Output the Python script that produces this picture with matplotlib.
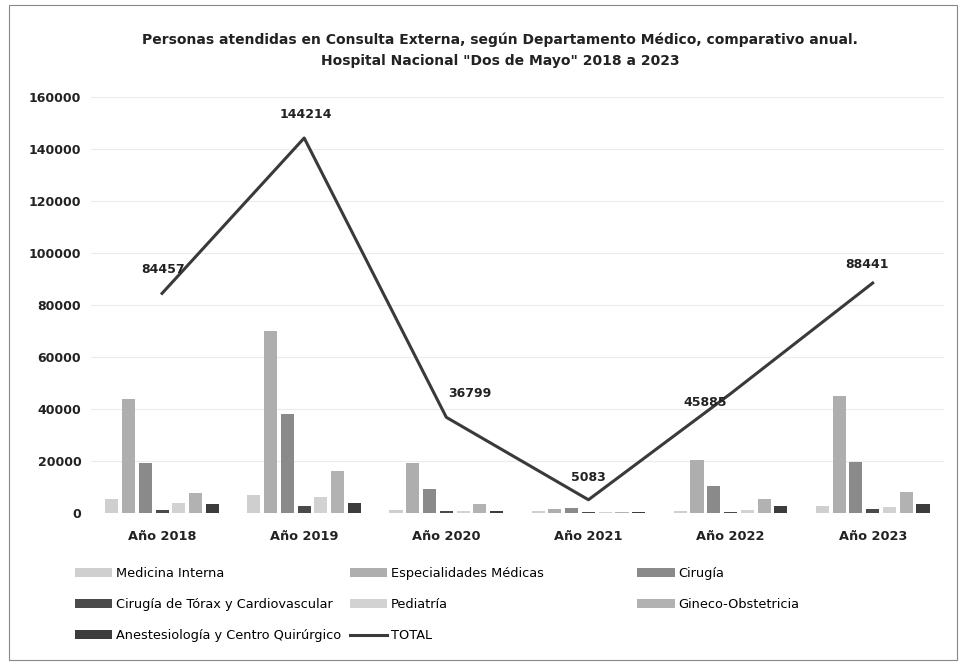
import numpy as np
import matplotlib
matplotlib.use("Agg")
import matplotlib.pyplot as plt
from matplotlib.patches import Patch, Rectangle
from matplotlib.lines import Line2D

# data
years = ["Año 2018", "Año 2019", "Año 2020", "Año 2021", "Año 2022", "Año 2023"]
series = ["Medicina Interna", "Especialidades Médicas", "Cirugía",
          "Cirugía de Tórax y Cardiovascular", "Pediatría", "Gineco-Obstetricia",
          "Anestesiología y Centro Quirúrgico"]
medicina = [5500, 6800, 1000, 600, 700, 2500]
especialidades = [44000, 70000, 19300, 1500, 20400, 44900]
cirugia = [19200, 38200, 9400, 1800, 10200, 19600]
torax = [1300, 2700, 700, 200, 500, 1500]
pediatria = [4000, 6200, 600, 300, 1000, 2300]
gineco = [7500, 16300, 3300, 400, 5400, 7900]
anestesia = [3300, 3800, 700, 300, 2800, 3500]
total = [84457, 144214, 36799, 5083, 45885, 88441]

values = [medicina, especialidades, cirugia, torax, pediatria, gineco, anestesia]
colors = ["#cfcfcf", "#aeaeae", "#8a8a8a", "#4a4a4a", "#d2d2d2", "#b2b2b2", "#3c3c3c"]
line_color = "#3a3a3a"

plt.rcParams["font.family"] = "DejaVu Sans"

fig = plt.figure(figsize=(9.64, 6.65), dpi=100, facecolor="white")
ax = fig.add_axes([0.0944, 0.2286, 0.8846, 0.6256])

x = np.arange(len(years))
step = 0.118
width = 0.092
for i, vals in enumerate(values):
    ax.bar(x + (i - 3) * step, vals, width=width, color=colors[i], zorder=2)

ax.plot(x, total, color=line_color, lw=2.2, zorder=3)

# label offsets (points) for the TOTAL values
offsets = [(1, 17), (1, 17), (17, 17), (0, 16), (-18, -6), (-4, 13)]
for xi, v, off in zip(x, total, offsets):
    ax.annotate(str(v), (xi, v), xytext=off, textcoords="offset points",
                ha="center", va="center", fontsize=9, fontweight="bold",
                color="#222222", zorder=4)

ax.set_xlim(-0.5, len(years) - 0.5)
ax.set_ylim(0, 160000)
ax.set_yticks(np.arange(0, 160001, 20000))
ax.set_xticks(x)
ax.set_xticklabels(years, fontsize=9.3, fontweight="bold", color="#222222")
for lab in ax.get_yticklabels():
    lab.set_fontsize(9)
    lab.set_fontweight("bold")
    lab.set_color("#222222")
ax.tick_params(length=0, pad=12)
ax.tick_params(axis="y", pad=7)
ax.grid(axis="y", color="#ececec", lw=0.8, zorder=0)
for s in ax.spines.values():
    s.set_visible(False)

fig.text(0.519, 0.940, "Personas atendidas en Consulta Externa, según Departamento Médico, comparativo anual.",
         ha="center", va="center", fontsize=10, fontweight="bold", color="#222222")
fig.text(0.519, 0.908, 'Hospital Nacional "Dos de Mayo" 2018 a 2023',
         ha="center", va="center", fontsize=10, fontweight="bold", color="#222222")

# legend, laid out in three columns like the original
def handle(i):
    return Patch(facecolor=colors[i], edgecolor="none")

total_handle = Line2D([0], [0], color=line_color, lw=2.2)
cols = [
    ([handle(0), handle(3), handle(6)], [series[0], series[3], series[6]], 0.0778),
    ([handle(1), handle(4), total_handle], [series[1], series[4], "TOTAL"], 0.363),
    ([handle(2), handle(5)], [series[2], series[5]], 0.661),
]
for hs, ls, xpos in cols:
    fig.legend(hs, ls, loc="upper left", bbox_to_anchor=(xpos, 0.148),
               frameon=False, fontsize=9.3, handlelength=2.9, handletextpad=0.25,
               labelspacing=1.42, borderpad=0, borderaxespad=0)

fig.patches.append(Rectangle((0.009, 0.008), 0.984, 0.984, transform=fig.transFigure,
                             fill=False, edgecolor="#888888", lw=0.8))

fig.savefig("out.png", dpi=100)
